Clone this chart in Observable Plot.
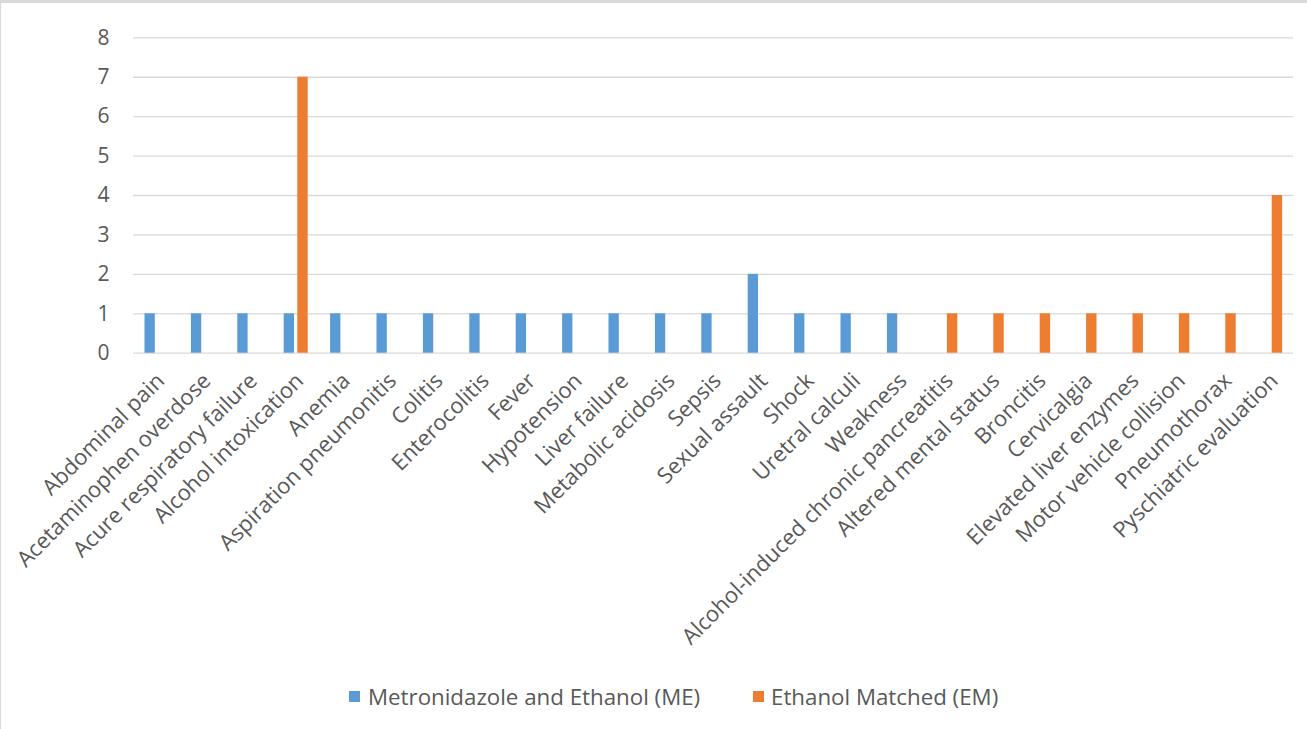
<!DOCTYPE html>
<html>
<head>
<meta charset="utf-8">
<script src="https://cdn.jsdelivr.net/npm/d3@7"></script>
<script src="https://cdn.jsdelivr.net/npm/@observablehq/plot@0.6"></script>
<style>
  html, body { margin: 0; padding: 0; background: #fff; }
  #wrap { position: relative; width: 1307px; height: 729px; overflow: hidden; font-family: "Open Sans", sans-serif; }
  #topbar { position: absolute; left: 0; top: 0; width: 1307px; height: 3px; background: #d9d9d9; }
  #leftbar { position: absolute; left: 0; top: 3px; width: 1px; height: 726px; background: #d9d9d9; }
  #chart { position: absolute; left: 0; top: 3px; }
  #legend { position: absolute; left: 0; top: 682px; width: 1307px; height: 30px; }
  .sw { position: absolute; top: 9px; width: 11px; height: 11px; }
  .lt { position: absolute; top: 0; font-size: 22.3px; line-height: 30px; color: #595959; white-space: nowrap; }
</style>
</head>
<body>
<div id="wrap">
  <div id="topbar"></div>
  <div id="leftbar"></div>
  <div id="chart"></div>
  <div id="legend"></div>
</div>
<script>
const categories = [
  "Abdominal pain", "Acetaminophen overdose", "Acure respiratory failure", "Alcohol intoxication",
  "Anemia", "Aspiration pneumonitis", "Colitis", "Enterocolitis", "Fever", "Hypotension",
  "Liver failure", "Metabolic acidosis", "Sepsis", "Sexual assault", "Shock", "Uretral calculi",
  "Weakness", "Alcohol-induced chronic pancreatitis", "Altered mental status", "Broncitis",
  "Cervicalgia", "Elevated liver enzymes", "Motor vehicle collision", "Pneumothorax",
  "Pyschiatric evaluation"
];
const meValues = [1,1,1,1,1,1,1,1,1,1,1,1,1,2,1,1,1,0,0,0,0,0,0,0,0];
const emValues = [0,0,0,7,0,0,0,0,0,0,0,0,0,0,0,0,0,1,1,1,1,1,1,1,4];
const seriesNames = ["Metronidazole and Ethanol (ME)", "Ethanol Matched (EM)"];
const seriesColors = ["#5B9BD5", "#ED7D31"];
const yTicks = [0,1,2,3,4,5,6,7,8];

const meData = categories.map((c, i) => ({category: c, value: meValues[i]})).filter(d => d.value > 0);
const emData = categories.map((c, i) => ({category: c, value: emValues[i]})).filter(d => d.value > 0);

const chart = Plot.plot({
  width: 1307,
  height: 665,
  marginLeft: 133,
  marginRight: 14,
  marginTop: 34.3,
  marginBottom: 315.3,
  style: {fontFamily: "Open Sans, sans-serif", fontSize: "22px", color: "#595959", background: "transparent", overflow: "visible"},
  x: {domain: categories, padding: 0, round: false, label: null},
  y: {domain: [0, 8], label: null},
  marks: [
    Plot.gridY(yTicks, {stroke: "#d9d9d9", strokeOpacity: 1, strokeWidth: 1.3}),
    Plot.barY(meData, {x: "category", y: "value", fill: seriesColors[0], insetLeft: 11.5, insetRight: 24.6}),
    Plot.barY(emData, {x: "category", y: "value", fill: seriesColors[1], insetLeft: 25.1, insetRight: 10.9}),
    Plot.axisY({ticks: yTicks, tickSize: 0, tickPadding: 24, fontSize: 21, fill: "#595959", label: null}),
    Plot.axisX({tickSize: 0, tickPadding: 24, dx: 4, tickRotate: -45, fontSize: 22, fill: "#595959", label: null})
  ]
});
document.getElementById("chart").appendChild(chart);

const legend = document.getElementById("legend");
const swLeft = [349, 753];
const txLeft = [368, 771];
seriesNames.forEach((name, i) => {
  const sw = document.createElement("div");
  sw.className = "sw";
  sw.style.left = swLeft[i] + "px";
  sw.style.background = seriesColors[i];
  legend.appendChild(sw);
  const t = document.createElement("div");
  t.className = "lt";
  t.style.left = txLeft[i] + "px";
  t.textContent = name;
  legend.appendChild(t);
});
</script>
</body>
</html>
